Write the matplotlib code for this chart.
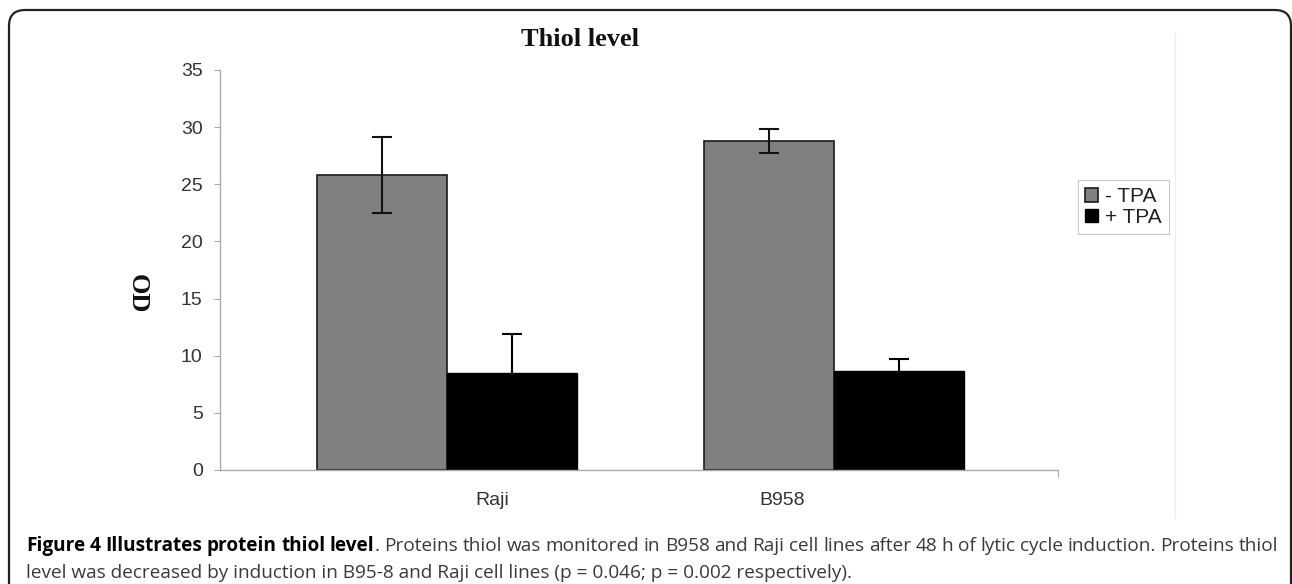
import matplotlib
matplotlib.use("Agg")
import matplotlib.pyplot as plt
from matplotlib.patches import FancyBboxPatch
from matplotlib.lines import Line2D
import numpy as np

# ---- data ----
categories = ["Raji", "B958"]
series_names = ["- TPA", "+ TPA"]
minus_tpa = [25.8, 28.8]
plus_tpa = [8.5, 8.7]
minus_err = [3.3, 1.05]
plus_err = [3.4, 1.0]
yticks = [0, 5, 10, 15, 20, 25, 30, 35]
title = "Thiol level"
ylabel = "OD"
caption_bold = "Figure 4 Illustrates protein thiol level"
caption_line1_rest = ". Proteins thiol was monitored in B958 and Raji cell lines after 48 h of lytic cycle induction. Proteins thiol"
caption_line2 = "level was decreased by induction in B95-8 and Raji cell lines (p = 0.046; p = 0.002 respectively)."

W, H = 1292, 584
fig = plt.figure(figsize=(W / 100, H / 100), dpi=100)
fig.patch.set_facecolor("white")

def fx(px):
    return px / W

def fy(py):
    return 1 - py / H

# axes: x from 220 to 1058 px, y from 470 (0) to 70 (35)
ax = fig.add_axes([fx(220), fy(470), fx(1058) - fx(220), (470 - 70) / H])
unit = 387.0
xmin = (220 - 447) / unit
xmax = 1 + (1058 - 834) / unit
ax.set_xlim(xmin, xmax)
ax.set_ylim(0, 35)

x = np.arange(len(categories))
bw = 130 / unit
bars1 = ax.bar(x - bw / 2, minus_tpa, width=bw, color="#808080", edgecolor="#1a1a1a",
               linewidth=1.2, label=series_names[0], zorder=2)
bars2 = ax.bar(x + bw / 2, plus_tpa, width=bw, color="#000000", edgecolor="#000000",
               linewidth=1.0, label=series_names[1], zorder=2)
ax.errorbar(x - bw / 2, minus_tpa, yerr=minus_err, fmt="none", ecolor="#111111",
            elinewidth=1.5, capsize=7, capthick=1.5, zorder=3)
ax.errorbar(x + bw / 2, plus_tpa, yerr=plus_err, fmt="none", ecolor="#000000",
            elinewidth=1.5, capsize=7, capthick=1.5, zorder=3)

for s in ["top", "right"]:
    ax.spines[s].set_visible(False)
for s in ["left", "bottom"]:
    ax.spines[s].set_color("#aaaaaa")
    ax.spines[s].set_linewidth(1.0)

ax.set_yticks(yticks)
ax.set_yticklabels([str(v) for v in yticks], fontfamily="Liberation Sans", fontsize=14, color="#333333")
ax.tick_params(axis="y", direction="out", length=4.5, width=0.8, color="#aaaaaa", pad=8)

label_pos = [(492 - 447) / unit, (782 - 447) / unit]
ax.set_xticks(label_pos)
ax.set_xticklabels(categories, fontfamily="Liberation Sans", fontsize=14, color="#333333")
ax.tick_params(axis="x", length=0, pad=16)
ax.set_xticks([xmax], minor=True)
ax.tick_params(axis="x", which="minor", length=5, width=0.8, color="#aaaaaa", direction="out")

# title and y label
fig.text(fx(580), fy(40), title, ha="center", va="center", fontfamily="Liberation Serif",
         fontweight="bold", fontsize=19, color="#111111")
fig.text(fx(137), fy(294), ylabel, ha="center", va="center", rotation=270,
         fontfamily="Liberation Serif", fontweight="bold", fontsize=19, color="#111111")

# legend
leg = fig.legend(handles=[bars1, bars2], labels=series_names, loc="upper left",
                 bbox_to_anchor=(fx(1078), fy(180)), borderaxespad=0,
                 prop={"family": "Liberation Sans", "size": 15},
                 frameon=True, fancybox=False, handlelength=0.6, handleheight=0.6,
                 handletextpad=0.35, borderpad=0.35, labelspacing=0.08)
leg.get_frame().set_edgecolor("#bbbbbb")
leg.get_frame().set_linewidth(0.8)
for t in leg.get_texts():
    t.set_color("#222222")

# faint chart-area edge
fig.add_artist(Line2D([fx(1175), fx(1175)], [fy(33), fy(518)], color="#eeeeee", linewidth=1.0))

# outer rounded border
border = FancyBboxPatch((9 / 100, -0.5), (1291 - 9) / 100, (H - 10) / 100 + 0.5,
                        boxstyle="round,pad=0,rounding_size=0.16",
                        transform=fig.dpi_scale_trans, facecolor="none",
                        edgecolor="#222222", linewidth=1.6)
fig.add_artist(border)

# caption
renderer = fig.canvas.get_renderer()
cap_font = "Open Sans"
probe = fig.text(0, 0, caption_line2, fontfamily=cap_font, fontsize=10)
w10 = probe.get_window_extent(renderer).width
probe.remove()
cap_size = 10 * (852 - 26) / w10

x0, x1 = 26, 1278
y1, y2 = 551, 578

words = []
for w in caption_bold.split(" "):
    words.append([(w, "bold", "#000000")])
words[-1].append((".", "normal", "#3a3a3a"))
for w in caption_line1_rest[1:].split():
    words.append([(w, "normal", "#3a3a3a")])

def measure(txt, weight):
    t = fig.text(0, 0, txt, fontfamily=cap_font, fontsize=cap_size, fontweight=weight)
    wd = t.get_window_extent(renderer).width
    t.remove()
    return wd

widths = []
for segs in words:
    widths.append([measure(s, wt) for s, wt, c in segs])
total = sum(sum(ws) for ws in widths)
gap = (x1 - x0 - total) / (len(words) - 1)
cx = x0
for segs, ws in zip(words, widths):
    for (s, wt, c), wd in zip(segs, ws):
        fig.text(fx(cx), fy(y1), s, fontfamily=cap_font, fontsize=cap_size, fontweight=wt,
                 color=c, ha="left", va="baseline")
        cx += wd
    cx += gap

fig.text(fx(x0), fy(y2), caption_line2, fontfamily=cap_font, fontsize=cap_size,
         color="#3a3a3a", ha="left", va="baseline")

fig.savefig("out.png", dpi=100)
